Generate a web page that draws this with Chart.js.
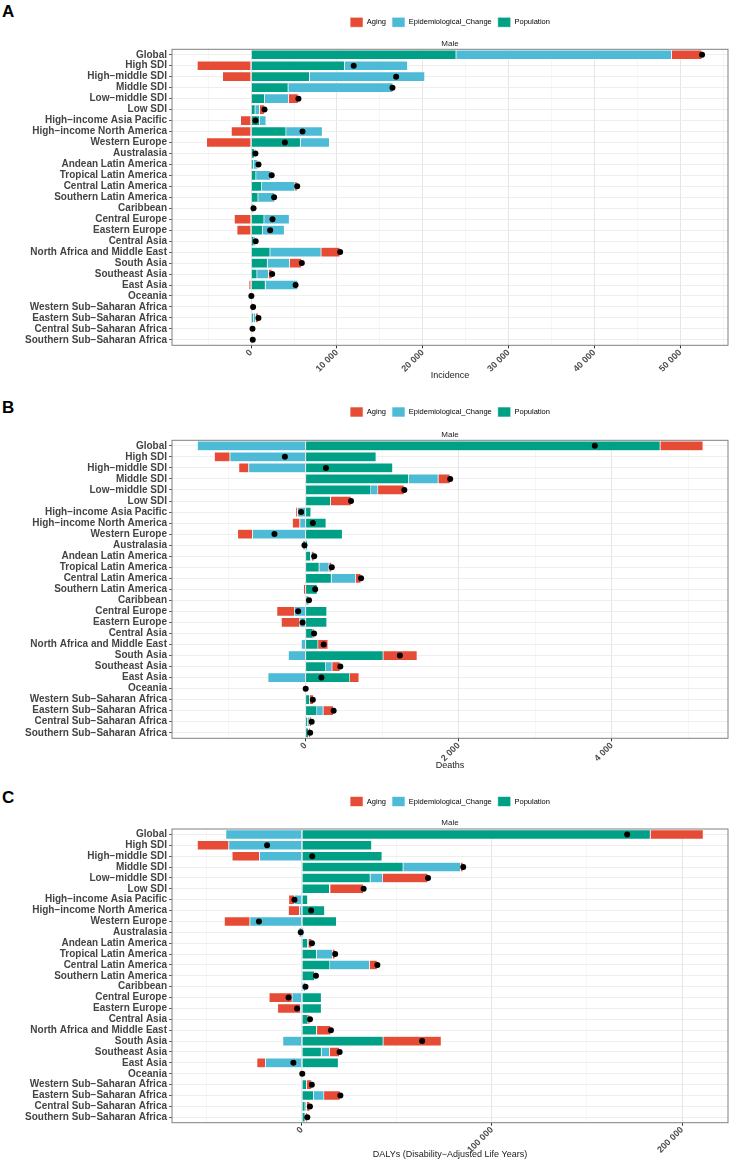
<!DOCTYPE html>
<html>
<head>
<meta charset="utf-8">
<title>Decomposition - Male</title>
<script src="https://cdn.jsdelivr.net/npm/chart.js@4.4.1/dist/chart.umd.min.js"></script>
<style>
  body { margin: 0; background: #fff; width: 731px; height: 1161px; position: relative; overflow: hidden; }
  .panel { position: absolute; left: 0; width: 731px; }
  .tag { position: absolute; left: 2px; font: bold 17px "Liberation Sans", Arial, sans-serif; line-height: 17px; color: #000; }
</style>
</head>
<body>
<div class="tag" style="top:3px">A</div>
<div class="tag" style="top:399px">B</div>
<div class="tag" style="top:789px">C</div>
<div class="panel" style="top:0px;height:386px"><canvas id="chartA"></canvas></div>
<div class="panel" style="top:386px;height:390px"><canvas id="chartB"></canvas></div>
<div class="panel" style="top:776px;height:385px"><canvas id="chartC"></canvas></div>
<script>
// regions, top to bottom
const regions = [
    'Global', 'High SDI', 'High\u2212middle SDI', 'Middle SDI', 'Low\u2212middle SDI', 'Low SDI',
    'High\u2212income Asia Pacific', 'High\u2212income North America', 'Western Europe', 'Australasia',
    'Andean Latin America', 'Tropical Latin America', 'Central Latin America', 'Southern Latin America',
    'Caribbean', 'Central Europe', 'Eastern Europe', 'Central Asia', 'North Africa and Middle East',
    'South Asia', 'Southeast Asia', 'East Asia', 'Oceania', 'Western Sub\u2212Saharan Africa',
    'Eastern Sub\u2212Saharan Africa', 'Central Sub\u2212Saharan Africa', 'Southern Sub\u2212Saharan Africa'
];

// A - Incidence
const incidencePopulation = [23900, 10900, 6820, 4330, 1590, 480, 1010, 4080, 5760, 400, 270, 580, 1250, 820, 120, 1520, 1360, 350, 2220, 1910, 700, 1670, 20, 100, 270, 60, 80];
const incidenceEpi = [25100, 7350, 13430, 12200, 2780, 520, 740, 4240, 3380, 150, 470, 1720, 3880, 1940, 200, 2950, 2530, 160, 5950, 2600, 1360, 3780, 10, 40, 270, 60, 60];
const incidenceAging = [3550, -6300, -3350, -60, 1140, 560, -1250, -2330, -5210, -50, 120, 100, 240, -80, -40, -1980, -1670, 20, 2200, 1400, 390, -270, 0, 90, 310, 40, 50];

// B - Deaths
const deathsPopulation = [4633, 923, 1140, 1348, 855, 329, 72, 270, 483, 25, 68, 179, 338, 155, 20, 280, 280, 100, 164, 1015, 266, 580, 2, 55, 150, 30, 40];
const deathsEpi = [-1415, -990, -744, 386, 92, -5, -106, -77, -696, -39, 15, 130, 319, -5, 25, -150, -77, -8, -58, -227, 82, -493, 0, -10, 82, 20, -5];
const deathsAging = [560, -203, -130, 155, 343, 270, -24, -97, -193, 0, 30, 34, 68, -24, 0, -227, -242, 19, 131, 444, 106, 120, 0, 50, 135, 30, 25];

// C - DALYs
const dalysPopulation = [183400, 36800, 42250, 53350, 36020, 14600, 3120, 12070, 18300, 970, 3120, 7790, 14800, 6810, 800, 10320, 10320, 3310, 7790, 42830, 10320, 19270, 200, 2530, 6230, 1750, 1750];
const dalysEpi = [-40110, -38550, -22390, 30180, 6620, 300, -3890, -1360, -27450, -1560, 300, 8370, 20830, 300, 1100, -5260, -970, 0, 200, -10120, 4280, -19270, 0, 0, 5450, 800, 300];
const dalysAging = [27850, -16550, -14410, 1360, 23750, 17600, -3120, -5840, -13440, 0, 1900, 1360, 4090, 300, 0, -12070, -11880, 970, 7300, 30570, 5260, -4480, 0, 2700, 8570, 1700, 800];

// axis breaks
const incidenceTicks = [0, 10000, 20000, 30000, 40000, 50000];
const incidenceMinor = [-5000, 5000, 15000, 25000, 35000, 45000, 55000];
const deathsTicks = [0, 2000, 4000];
const deathsMinor = [-1000, 1000, 3000, 5000];
const dalysTicks = [0, 100000, 200000];
const dalysMinor = [-50000, 50000, 150000];

Chart.defaults.font.family = '"Liberation Sans", Arial, sans-serif';

const fmt = v => String(v).replace(/\B(?=(\d{3})+(?!\d))/g, ' ');

// panel border drawn on top, like theme_bw
const panelFrame = {
    id: 'panelFrame',
    afterDraw(chart) {
        const { ctx, chartArea: a } = chart;
        ctx.save();
        ctx.strokeStyle = '#808080';
        ctx.lineWidth = 1;
        ctx.strokeRect(a.left, a.top, a.right - a.left, a.bottom - a.top);
        ctx.restore();
    }
};

function drawPanel(id, pop, epi, aging, ax) {
    const total = pop.map((v, i) => v + epi[i] + aging[i]);
    const isMajor = c => c.tick && ax.major.includes(c.tick.value);

    new Chart(document.getElementById(id), {
        type: 'bar',
        data: {
            labels: regions,
            datasets: [
                { label: 'Population', data: pop, backgroundColor: '#00A087', order: 1 },
                { label: 'Epidemiological_Change', data: epi, backgroundColor: '#4DBBD5', order: 1 },
                { label: 'Aging', data: aging, backgroundColor: '#E64B35', order: 1 },
                {
                    type: 'line', label: 'Total', data: total, indexAxis: 'y', stack: 'total', order: 0,
                    showLine: false, pointRadius: 3, pointHoverRadius: 3,
                    pointBackgroundColor: '#000', pointBorderWidth: 0
                }
            ]
        },
        options: {
            indexAxis: 'y',
            responsive: true,
            maintainAspectRatio: false,
            animation: false,
            events: [],
            datasets: {
                bar: { barPercentage: 0.9, categoryPercentage: 1, borderColor: '#ffffff', borderWidth: 0.6 }
            },
            layout: { padding: { top: ax.padTop, right: 2, bottom: 0, left: 0 } },
            plugins: {
                legend: {
                    position: 'top',
                    fullSize: false,
                    align: 'center',
                    labels: {
                        boxWidth: 13, boxHeight: 10, padding: 6, color: '#000',
                        font: { size: 7.5 },
                        filter: item => item.datasetIndex < 3,
                        sort: (a, b) => b.datasetIndex - a.datasetIndex
                    }
                },
                title: {
                    display: true, text: 'Male', position: 'top', fullSize: false, weight: 500,
                    color: '#1a1a1a', font: { size: 8, weight: 'normal' },
                    padding: { top: ax.malePt, bottom: ax.malePb }
                },
                tooltip: { enabled: false }
            },
            scales: {
                x: {
                    type: 'linear',
                    stacked: true,
                    min: ax.min,
                    max: ax.max,
                    afterBuildTicks: s => {
                        s.ticks = ax.major.concat(ax.minor).sort((a, b) => a - b).map(v => ({ value: v }));
                    },
                    grid: {
                        color: c => isMajor(c) ? '#E6E6E6' : '#F2F2F2',
                        lineWidth: c => isMajor(c) ? 1 : 0.7,
                        tickLength: 3,
                        tickColor: c => isMajor(c) ? '#333' : 'rgba(0,0,0,0)'
                    },
                    border: { display: false },
                    ticks: {
                        autoSkip: false, minRotation: 45, maxRotation: 45, padding: -1,
                        color: '#4D4D4D', font: { size: 9, weight: 'bold' },
                        callback: v => ax.major.includes(v) ? fmt(v) : ''
                    },
                    title: {
                        display: true, text: ax.title, color: '#1a1a1a',
                        font: { size: 9 }, padding: { top: 2, bottom: ax.titlePb }
                    },
                    afterFit: s => { s.height = ax.xHeight; }
                },
                y: {
                    type: 'category',
                    stacked: true,
                    offset: true,
                    grid: { offset: false, color: '#EBEBEB', lineWidth: 0.8, tickLength: 3, tickColor: '#333' },
                    border: { display: false },
                    ticks: {
                        autoSkip: false, padding: 2, color: '#444444',
                        font: { size: 10, weight: 'bold' }
                    },
                    afterFit: s => { s.width = 172; }
                }
            }
        },
        plugins: [panelFrame]
    });
}

drawPanel('chartA', incidencePopulation, incidenceEpi, incidenceAging, {
    min: -9220, max: 55570, major: incidenceTicks, minor: incidenceMinor, title: 'Incidence',
    padTop: 11.3, malePt: 1.4, malePb: 1.0, xHeight: 40.7, titlePb: 4.9
});
drawPanel('chartB', deathsPopulation, deathsEpi, deathsAging, {
    min: -1744, max: 5517, major: deathsTicks, minor: deathsMinor, title: 'Deaths',
    padTop: 15, malePt: 2.5, malePb: 1.2, xHeight: 37.7, titlePb: 5.3
});
drawPanel('chartC', dalysPopulation, dalysEpi, dalysAging, {
    min: -68330, max: 224200, major: dalysTicks, minor: dalysMinor, title: 'DALYs (Disability\u2212Adjusted Life Years)',
    padTop: 14.5, malePt: 1.7, malePb: 1.2, xHeight: 38.3, titlePb: 0.6
});
</script>
</body>
</html>
